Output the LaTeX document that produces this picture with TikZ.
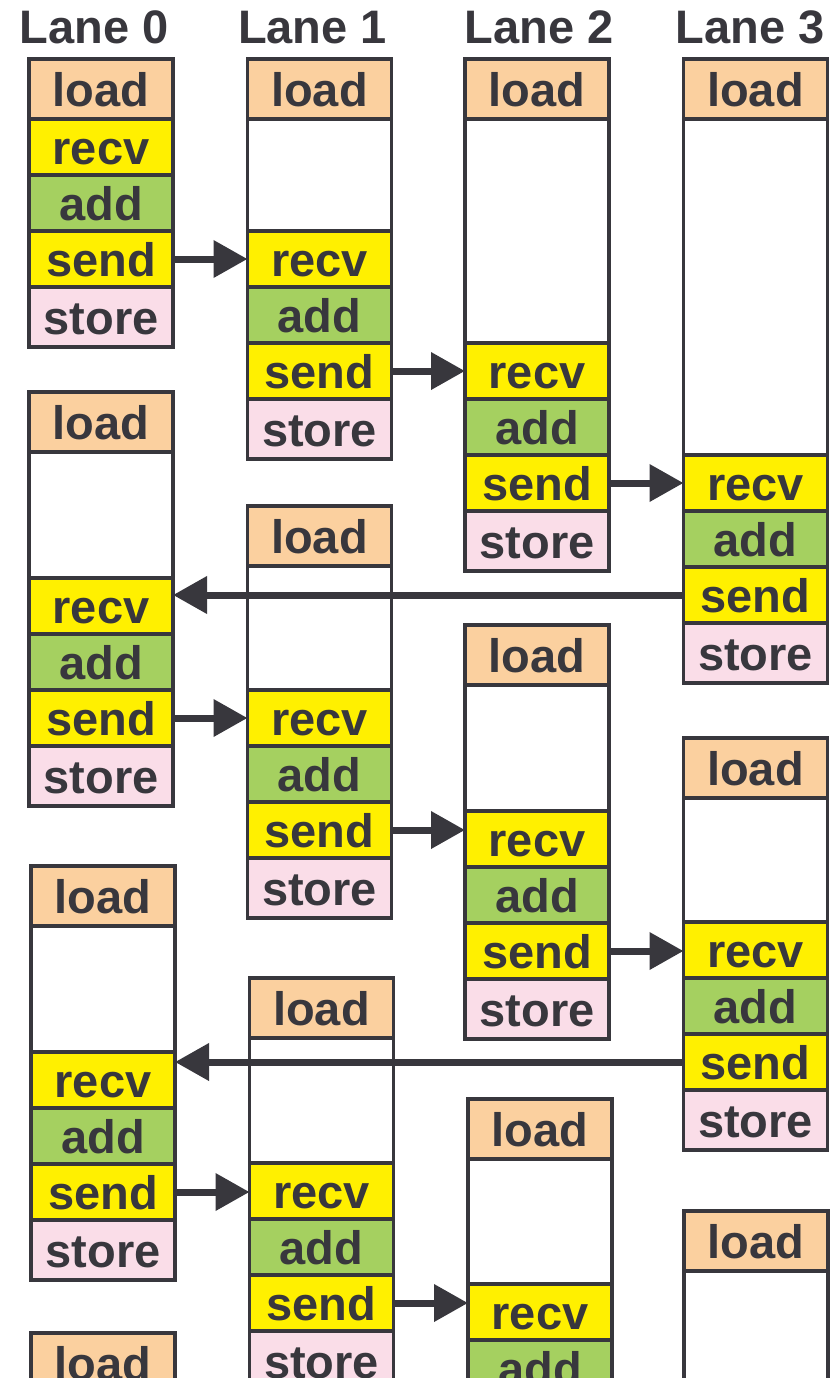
\documentclass[tikz,border=0pt]{standalone}
\usepackage{fontspec}
\setmainfont{Liberation Sans}
\usetikzlibrary{arrows.meta,positioning}
\definecolor{ink}{HTML}{38373D}
\definecolor{loadfill}{HTML}{FBD09F}
\definecolor{msgfill}{HTML}{FFF000}
\definecolor{addfill}{HTML}{A5D060}
\definecolor{storefill}{HTML}{FADDE8}
\newcommand{\laneblock}[4]{%
  \node[loadcell] (#1-load) at (#2, #3) {load};
  \ifnum#4>0
    \node[waitcell, minimum height=0.5pt*#4, below=0pt of #1-load] (#1-wait) {};
    \node[msgcell, below=0pt of #1-wait] (#1-recv) {recv};
  \else
    \node[msgcell, below=0pt of #1-load] (#1-recv) {recv};
  \fi
  \node[addcell, below=0pt of #1-recv] (#1-add) {add};
  \node[msgcell, below=0pt of #1-add] (#1-send) {send};
  \node[storecell, below=0pt of #1-send] (#1-store) {store};
}

\begin{document}
\begin{tikzpicture}[x=0.5pt, y=-0.5pt,
    font=\fontsize{23.5pt}{28pt}\selectfont\bfseries,
    cell/.style={draw=ink, line width=1.9pt, fill=white, text=ink, minimum width=72pt,
      minimum height=28pt, inner sep=0pt, outer sep=0pt, text height=17.5pt, text depth=0pt},
    loadcell/.style={cell, fill=loadfill, minimum height=30pt, anchor=north},
    waitcell/.style={cell},
    msgcell/.style={cell, fill=msgfill},
    addcell/.style={cell, fill=addfill},
    storecell/.style={cell, fill=storefill, minimum height=30pt},
    lanetitle/.style={text=ink, anchor=base},
    sendarrow/.style={draw=ink, line width=3.5pt, -{Triangle[length=17pt, width=18pt]}}]
    \useasboundingbox (0,0) rectangle (840,1378);
    \clip (0,0) rectangle (840,1378);

    \node[lanetitle] (lane0) at (94, 43) {Lane 0};
    \node[lanetitle] (lane1) at (312.5, 43) {Lane 1};
    \node[lanetitle] (lane2) at (539, 43) {Lane 2};
    \node[lanetitle] (lane3) at (750, 43) {Lane 3};

    \laneblock{l0r1}{101}{59}{0}
    \laneblock{l1r1}{319.5}{59}{112}
    \laneblock{l2r1}{537}{59}{224}
    \laneblock{l3r1}{755.5}{59}{336}

    \laneblock{l0r2}{101}{392}{126}
    \laneblock{l1r2}{319.5}{506}{124}
    \laneblock{l2r2}{537}{625}{126}
    \laneblock{l3r2}{755.5}{738}{124}

    \laneblock{l0r3}{103}{866}{126}
    \laneblock{l1r3}{321.5}{978}{125}

    \node[loadcell] (l2r3-load) at (540, 1099) {load};
    \node[waitcell, minimum height=62.5pt, below=0pt of l2r3-load] (l2r3-wait) {};
    \node[msgcell, below=0pt of l2r3-wait] (l2r3-recv) {recv};
    \node[addcell, below=0pt of l2r3-recv] (l2r3-add) {add};

    \node[loadcell] (l3r3-load) at (756, 1211) {load};
    \node[waitcell, minimum height=62.5pt, below=0pt of l3r3-load] (l3r3-wait) {};

    \node[loadcell] (l0r4-load) at (103, 1333) {load};

    \draw[sendarrow] (l0r1-send.east) -- (l1r1-recv.west |- l0r1-send.east);
    \draw[sendarrow] (l1r1-send.east) -- (l2r1-recv.west |- l1r1-send.east);
    \draw[sendarrow] (l2r1-send.east) -- (l3r1-recv.west |- l2r1-send.east);
    \draw[sendarrow] (l3r1-send.west) -- (l0r2-recv.east |- l3r1-send.west);
    \draw[sendarrow] (l0r2-send.east) -- (l1r2-recv.west |- l0r2-send.east);
    \draw[sendarrow] (l1r2-send.east) -- (l2r2-recv.west |- l1r2-send.east);
    \draw[sendarrow] (l2r2-send.east) -- (l3r2-recv.west |- l2r2-send.east);
    \draw[sendarrow] (l3r2-send.west) -- (l0r3-recv.east |- l3r2-send.west);
    \draw[sendarrow] (l0r3-send.east) -- (l1r3-recv.west |- l0r3-send.east);
    \draw[sendarrow] (l1r3-send.east) -- (l2r3-recv.west |- l1r3-send.east);
\end{tikzpicture}
\end{document}
